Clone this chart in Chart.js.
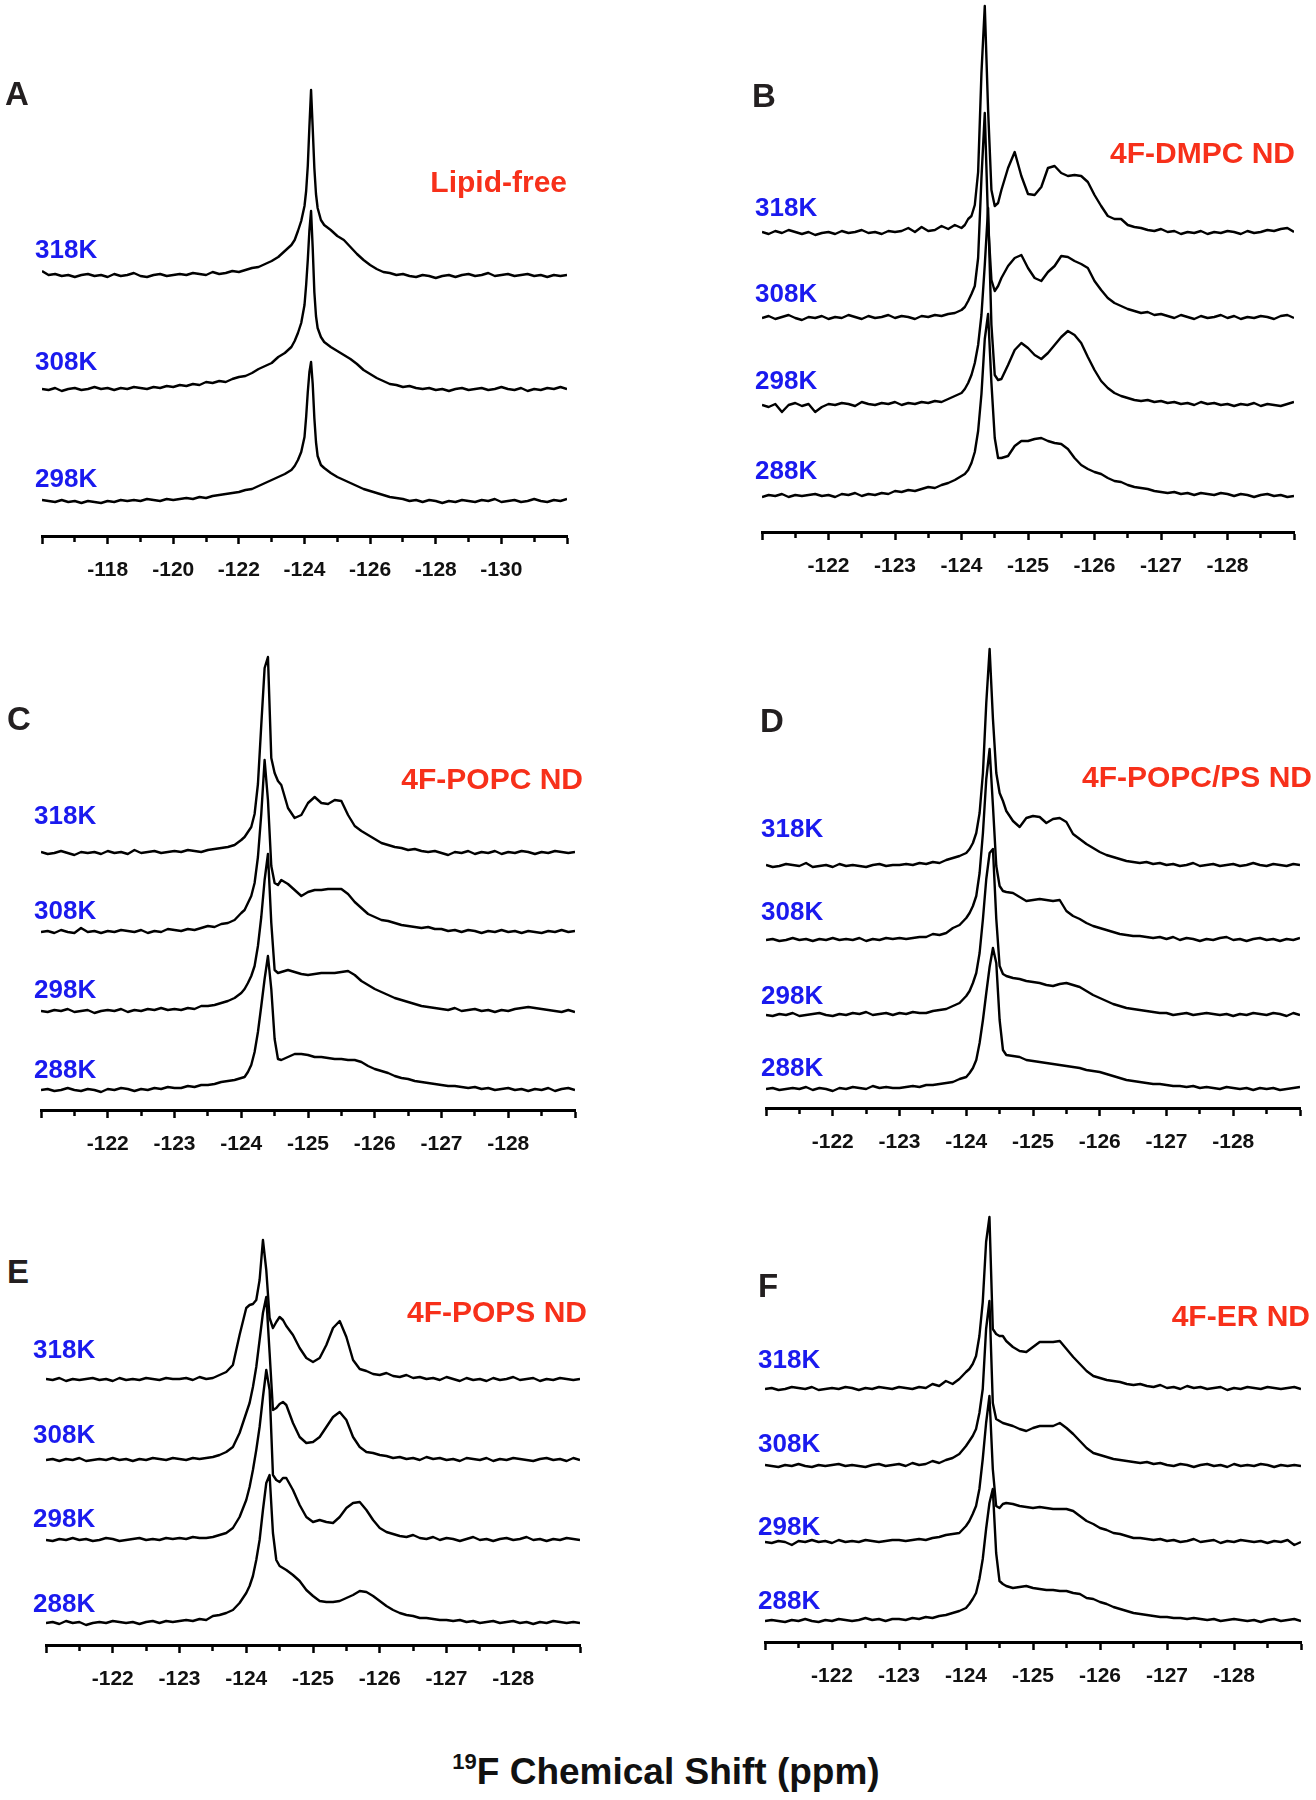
<!DOCTYPE html>
<html>
<head>
<meta charset="utf-8">
<script src="https://cdn.jsdelivr.net/npm/chart.js@4.4.1/dist/chart.umd.min.js"></script>
<style>
  body { margin: 0; width: 1316px; height: 1800px; position: relative; background: #fff; overflow: hidden;
         font-family: 'Liberation Sans', Arial, Helvetica, sans-serif; }
  canvas { position: absolute; }
  .lbl { position: absolute; font-weight: bold; line-height: 1; transform: translateY(-50%); white-space: nowrap; }
  .temp { color: #1a1aee; font-size: 26px; }
  .name { color: #f7301a; font-size: 30px; }
  .letter { color: #231f20; font-size: 33px; }
  .title { position: absolute; left: 666px; top: 1770px; transform: translate(-50%, -50%); font-size: 37px;
           font-weight: bold; color: #111; white-space: nowrap; line-height: 1; }
  .title sup { font-size: 22px; vertical-align: 15px; }
</style>
</head>
<body>
<div class="title"><sup>19</sup>F Chemical Shift (ppm)</div>
<script>
// chemical shift grid (ppm) for panel A, lipid-free
const shiftA = [
  -116, -116.2, -116.4, -116.6, -116.8, -117, -117.2, -117.4, -117.6, -117.8,
  -118, -118.2, -118.4, -118.6, -118.8, -119, -119.2, -119.4, -119.6, -119.8,
  -120, -120.2, -120.4, -120.6, -120.8, -121, -121.2, -121.4, -121.6, -121.8,
  -122, -122.2, -122.4, -122.6, -122.8, -123, -123.2, -123.4, -123.6,
  -123.7, -123.8, -123.9, -124, -124.05, -124.1, -124.15, -124.2, -124.25, -124.3, -124.35, -124.4, -124.5, -124.6,
  -124.8, -125, -125.2, -125.4, -125.6, -125.8, -126, -126.2, -126.4, -126.6,
  -126.8, -127, -127.2, -127.4, -127.6, -127.8, -128, -128.2, -128.4, -128.6,
  -128.8, -129, -129.2, -129.4, -129.6, -129.8, -130, -130.2, -130.4, -130.6,
  -130.8, -131, -131.2, -131.4, -131.6, -131.8, -132
];
// chemical shift grid (ppm) for the nanodisc panels B-F
const shiftND = [
  -121, -121.1, -121.2, -121.3, -121.4, -121.5, -121.6, -121.7, -121.8, -121.9,
  -122, -122.1, -122.2, -122.3, -122.4, -122.5, -122.6, -122.7, -122.8, -122.9,
  -123, -123.1, -123.2, -123.3, -123.4, -123.5, -123.6, -123.7, -123.8, -123.9,
  -124,
  -124.05, -124.1, -124.15, -124.2, -124.25, -124.3, -124.35, -124.4, -124.45, -124.5, -124.55, -124.6,
  -124.7, -124.8, -124.9,
  -125, -125.1, -125.2, -125.3, -125.4, -125.5, -125.6, -125.7, -125.8, -125.9,
  -126, -126.1, -126.2, -126.3, -126.4, -126.5, -126.6, -126.7, -126.8, -126.9,
  -127, -127.1, -127.2, -127.3, -127.4, -127.5, -127.6, -127.7, -127.8, -127.9,
  -128, -128.1, -128.2, -128.3, -128.4, -128.5, -128.6, -128.7, -128.8, -128.9,
  -129
];

const tempsA = ['318K', '308K', '298K'];
const tempsND = ['318K', '308K', '298K', '288K'];

// A: lipid-free (intensity above each trace's own baseline)
const lipid318 = [5,1,2,0,1,-1,1,2,0,1, -1,2,0,1,3,0,-1,1,2,0, 1,2,1,3,2,1,4,2,3,5, 4,6,8,9,12,15,19,25,31,
  36,45,55,70,85,110,150,186,148,108,82,68,56,51,
  46,40,36,29,22,16,11,7,4,3, 1,2,0,-1,1,0,-2,0,1,-1, 1,2,0,1,3,0,1,2,0,1, 2,0,1,-1,1,0,1];
const lipid308 = [1,0,2,-1,1,2,0,1,3,1, 2,0,2,1,3,2,1,3,2,4, 3,5,4,6,5,8,7,9,8,11, 13,14,17,21,24,27,33,37,43,
  49,57,67,85,105,130,160,179,142,98,74,62,53,48,
  43,39,35,31,26,20,16,12,9,6, 5,3,4,2,1,2,0,1,-1,1, 2,0,1,2,0,1,3,1,0,2, -1,1,0,2,1,3,1];
const lipid298 = [2,1,0,2,0,1,-1,1,0,-1, 1,0,2,1,2,1,3,2,1,3, 2,3,4,3,5,4,6,7,8,9, 10,12,13,16,19,22,25,28,32,
  36,42,50,65,85,110,130,140,118,84,60,46,37,34,
  29,25,22,19,16,13,11,9,7,5, 4,3,1,2,0,2,1,-1,1,0, 2,1,0,2,1,3,0,1,2,0, 1,3,1,0,2,1,3];
const offsetsA = [260, 146, 34];

// B: 4F-DMPC ND
const dmpc318 = [1,-1,2,0,3,1,-1,1,-2,0, 1,-1,2,0,1,3,0,1,-1,2, 1,2,5,1,6,2,3,7,4,8, 5,
  8,14,17,28,61,160,227,123,43,27,30,43,
  65,81,57, 39,38,46,65,67,60,57,58,57,51, 38,27,17,14,14,8,6,5,3,2, 4,1,2,-1,1,0,2,-1,1,0, 2,1,-1,2,0,1,3,2,4,5, 1];
const dmpc308 = [0,2,-1,1,3,0,-2,1,0,2, -1,1,0,3,1,-1,2,0,1,3, 0,2,1,-1,2,1,3,2,4,5, 8,
  11,17,24,32,60,140,205,95,38,27,32,40,
  52,60,63, 50,40,37,46,52,62,61,57,54,50, 37,28,20,15,12,9,7,5,6,3, 4,2,0,3,1,-1,2,0,1,3, 0,2,-1,1,0,2,1,-1,2,3, 0];
const dmpc298 = [0,-2,1,-7,0,2,-1,1,-7,-2, 1,0,2,1,-1,3,1,0,2,1, 3,0,2,1,3,2,4,3,6,9, 12,
  16,22,30,42,60,90,140,197,80,30,25,26,
  40,55,62, 57,50,46,52,60,68,74,70,62,48, 35,24,17,12,9,7,5,4,5,3, 4,2,3,1,2,0,3,1,2,0, 1,-1,1,0,2,-1,1,0,-1,1, 3];
const dmpc288 = [-1,1,0,2,-1,1,0,1,2,0, 1,-1,2,1,3,0,2,1,3,2, 5,4,6,5,7,9,8,11,13,16, 20,
  22,26,33,44,65,102,157,182,113,58,38,38,
  40,50,55, 55,57,58,55,53,52,47,38,31,27, 24,22,18,15,14,11,9,8,7,5, 4,3,4,2,3,1,3,2,1,3, 2,0,2,1,-1,1,2,0,1,-1, 0];
const offsetsB = [299, 214, 127, 36];

// C: 4F-POPC ND
const popc318 = [1,-1,0,2,0,-2,1,0,1,-1, 2,0,1,-1,3,0,1,2,0,1, 2,1,3,2,1,3,4,5,6,8, 13,
  16,21,26,39,69,128,185,196,95,80,72,68,
  45,35,38, 50,56,50,49,53,52,38,27,22,18, 14,10,8,6,5,3,4,2,1,2, 0,-2,1,0,2,-1,1,0,2,-1, 1,0,2,1,-1,1,0,2,1,0, 1];
const popc308 = [0,1,-1,2,0,-1,4,0,1,-1, 1,0,2,1,0,2,-1,1,0,3, 2,1,3,2,4,6,5,8,9,12, 19,
  22,29,36,49,75,118,172,132,66,49,47,52,
  48,42,36, 40,42,42,43,43,43,38,30,24,18, 15,12,11,9,7,6,5,4,5,3, 3,1,2,0,2,1,-1,1,0,2, 0,1,-1,1,0,-1,1,0,2,0, 1];
const popc298 = [0,-1,1,0,2,-1,0,1,-2,0, 1,0,2,-1,1,0,2,1,3,1, 2,1,3,2,5,5,6,8,10,13, 18,
  22,28,35,45,65,94,131,157,88,41,38,39,
  41,39,37, 36,37,38,38,38,39,40,36,30,26, 22,19,16,13,11,9,7,5,4,3, 2,1,3,0,1,2,0,1,-1,1, 0,2,3,4,3,2,1,0,-1,1, -1];
const popc288 = [0,1,-1,0,2,0,-1,1,0,-2, 1,0,2,1,-1,1,0,2,1,3, 2,2,4,3,5,5,6,8,9,10, 12,
  13,18,25,38,58,84,111,134,101,51,31,30,
  33,36,36, 35,33,33,32,31,31,30,30,28,24, 21,19,17,14,12,11,9,8,7,6, 5,4,4,3,2,3,1,2,0,1, 2,0,1,-1,1,0,2,-1,1,2, 0];
const offsetsC = [257, 178, 99, 20];

// D: 4F-POPC/PS ND
const popcps318 = [1,-1,0,2,1,0,3,-1,0,1, -1,2,0,1,0,-1,1,2,0,1, 1,2,1,3,2,4,3,6,8,10, 13,
  17,23,33,53,93,163,217,147,93,73,65,55,
  45,39,48, 50,49,43,47,48,44,32,27,22,18, 14,11,9,7,5,4,3,4,2,3, 1,2,0,1,3,0,1,2,0,1, 2,0,1,3,1,0,2,1,0,2, 1];
const popcps308 = [0,1,-1,0,2,0,1,-1,1,0, 2,0,1,0,2,-1,1,0,2,1, 2,1,2,3,3,6,5,7,12,15, 22,
  27,34,44,67,107,161,191,134,74,54,49,48,
  47,43,39, 40,41,40,39,40,29,24,21,17,14, 12,10,8,6,5,4,4,3,2,3, 1,3,0,2,1,-1,1,0,2,3, 0,1,-1,1,2,0,1,-1,1,0, 2];
const popcps298 = [0,-1,1,0,2,-1,0,1,2,0, -1,1,0,2,1,3,0,1,2,0, 2,1,3,2,2,4,5,6,9,12, 19,
  24,32,42,62,96,136,162,166,96,49,41,39,
  37,36,34, 33,32,30,29,31,32,30,28,24,20, 17,14,11,9,7,6,5,4,3,2, 2,0,1,2,0,1,2,1,0,1, -1,1,0,2,1,0,2,1,-1,2, 0];
const popcps288 = [0,1,-1,0,1,0,2,-1,1,0, -2,1,0,2,1,0,3,1,2,1, 1,2,3,2,4,4,5,6,7,10, 12,
  16,21,29,46,69,96,122,141,126,69,39,34,
  33,32,29, 28,27,26,25,24,23,22,21,19,18, 17,15,13,11,9,8,7,6,5,5, 4,3,3,2,3,1,2,1,0,2, 1,0,1,-1,1,0,1,-1,0,1, 2];
const offsetsD = [242, 168, 93, 19];

// E: 4F-POPS ND
const pops318 = [1,0,2,-1,1,0,1,2,0,1, -1,2,0,1,0,2,1,0,2,1, 1,2,0,3,1,2,5,8,15,45, 72,
  75,76,80,100,140,110,62,52,58,63,60,54,
  45,32,22, 18,22,35,52,59,43,20,11,9,6, 5,7,4,3,5,2,3,1,2,0, 3,1,-1,2,0,1,-1,2,0,1, 3,0,1,2,-1,1,0,2,1,0, 1];
const pops308 = [0,1,-1,1,0,2,-1,0,1,0, 2,0,1,-1,1,0,2,1,0,2, 1,0,2,1,2,3,5,8,13,27, 47,
  57,73,93,120,147,163,107,50,52,56,58,55,
  37,23,17, 18,23,33,43,48,40,23,13,8,7, 5,4,2,3,1,2,0,3,1,2, 0,1,-1,2,1,0,2,-1,1,0, 2,1,0,-1,1,2,0,1,-1,2, 0];
const pops298 = [0,-1,1,0,2,0,1,-1,0,2, 1,-1,0,1,2,0,1,0,2,1, 2,1,3,2,2,3,5,7,12,23, 40,
  53,70,90,113,143,170,150,65,60,58,62,62,
  50,35,23, 18,20,18,17,23,32,37,38,30,20, 12,8,6,4,3,5,2,1,3,0, 2,1,-1,1,3,0,1,-1,1,2, 0,1,3,0,1,-1,1,0,2,1, 0];
const pops288 = [0,1,-1,2,0,1,-2,0,1,0, 2,1,0,1,-1,1,2,0,2,1, 2,3,2,4,3,7,8,10,13,20, 30,
  37,47,63,83,113,140,148,90,63,57,55,53,
  48,42,33, 27,22,21,21,22,25,28,32,31,27, 22,17,13,10,8,7,5,5,4,3, 3,2,3,1,2,0,1,2,0,1, 2,0,1,-1,1,0,2,1,0,1, 0];
const offsetsE = [265, 185, 105, 22];

// F: 4F-ER ND
const er318 = [0,1,-1,0,2,1,0,2,-1,0, 1,0,2,1,-1,1,0,2,1,0, 2,1,0,2,1,5,3,8,5,10, 17,
  20,25,33,53,87,147,172,60,55,53,53,48,
  42,38,37, 42,47,47,47,48,40,32,25,18,13, 11,9,8,7,5,4,5,3,2,4, 1,2,0,3,1,2,0,1,2,-1, 1,0,2,1,0,2,1,0,1,2, 0];
const er308 = [1,0,-1,1,0,2,0,-1,1,0, 1,2,0,1,0,-1,1,2,0,1, 2,0,3,1,2,5,3,6,8,12, 20,
  25,30,37,53,77,137,165,63,47,45,43,42,
  40,37,35, 38,40,40,40,43,38,32,25,18,13, 11,9,7,6,5,4,3,4,2,3, 1,0,2,1,-1,1,2,0,1,-1, 2,0,1,0,2,1,-1,1,0,1, 0];
const er298 = [0,-1,1,0,-3,1,0,2,0,1, -1,2,0,1,0,2,1,0,1,2, 2,1,2,3,2,4,5,7,8,9, 16,
  21,28,36,53,83,119,146,73,36,34,38,39,
  38,36,35, 34,35,34,33,33,33,31,26,21,18, 14,12,9,8,6,4,4,3,2,3, 1,2,0,1,3,0,1,2,-1,1, 0,2,1,0,1,-1,1,0,2,-3, 0];
const er288 = [0,1,0,-1,1,0,2,0,-1,1, 0,2,1,0,1,3,1,2,0,2, 2,1,3,2,4,3,5,6,8,10, 13,
  17,22,28,42,62,92,118,132,68,40,37,35,
  33,34,35, 33,32,31,31,30,30,28,27,23,22, 19,17,14,12,10,8,7,6,5,4, 4,3,3,2,3,2,1,2,0,1, 2,1,0,1,-1,1,2,0,1,2, 0];
const offsetsF = [253, 176, 100, 21];

const FONT = "'Liberation Sans', Arial, Helvetica, sans-serif";
const PAD = 8;      // canvas margin left/right of the axis
const AXIS_H = 54;  // height reserved for ticks + tick labels

const panels = [
  { letter: 'A', name: 'Lipid-free', shifts: shiftA, temps: tempsA, spectra: [lipid318, lipid308, lipid298], offsets: offsetsA,
    min: -132, max: -116, step: 1, major: 2, left: 36, right: 573, axisY: 536, top: 60,
    letterPos: [5, 93], namePos: [567, 182], tempX: 35, tempY: [249, 361, 478] },
  { letter: 'B', name: '4F-DMPC ND', shifts: shiftND, temps: tempsND, spectra: [dmpc318, dmpc308, dmpc298, dmpc288], offsets: offsetsB,
    min: -129, max: -121, step: 0.5, major: 1, left: 756, right: 1300, axisY: 532, top: 0,
    letterPos: [752, 95], namePos: [1295, 153], tempX: 755, tempY: [207, 293, 380, 470] },
  { letter: 'C', name: '4F-POPC ND', shifts: shiftND, temps: tempsND, spectra: [popc318, popc308, popc298, popc288], offsets: offsetsC,
    min: -129, max: -121, step: 0.5, major: 1, left: 35, right: 581, axisY: 1110, top: 640,
    letterPos: [7, 718], namePos: [583, 779], tempX: 34, tempY: [815, 910, 989, 1069] },
  { letter: 'D', name: '4F-POPC/PS ND', shifts: shiftND, temps: tempsND, spectra: [popcps318, popcps308, popcps298, popcps288], offsets: offsetsD,
    min: -129, max: -121, step: 0.5, major: 1, left: 760, right: 1306, axisY: 1108, top: 630,
    letterPos: [760, 720], namePos: [1312, 777], tempX: 761, tempY: [828, 911, 995, 1067] },
  { letter: 'E', name: '4F-POPS ND', shifts: shiftND, temps: tempsND, spectra: [pops318, pops308, pops298, pops288], offsets: offsetsE,
    min: -129, max: -121, step: 0.5, major: 1, left: 40, right: 586, axisY: 1645, top: 1220,
    letterPos: [7, 1271], namePos: [587, 1312], tempX: 33, tempY: [1349, 1434, 1518, 1603] },
  { letter: 'F', name: '4F-ER ND', shifts: shiftND, temps: tempsND, spectra: [er318, er308, er298, er288], offsets: offsetsF,
    min: -129, max: -121, step: 0.5, major: 1, left: 759, right: 1307, axisY: 1642, top: 1200,
    letterPos: [758, 1285], namePos: [1310, 1316], tempX: 758, tempY: [1359, 1443, 1526, 1600] }
];

function addLabel(text, cls, x, y, alignRight) {
  const d = document.createElement('div');
  d.className = 'lbl ' + cls;
  d.textContent = text;
  if (alignRight) d.style.right = (1316 - x) + 'px';
  else d.style.left = x + 'px';
  d.style.top = y + 'px';
  document.body.appendChild(d);
}

panels.forEach(p => {
  const cv = document.createElement('canvas');
  const w = p.right - p.left + 2 * PAD;
  const h = p.axisY - p.top + AXIS_H;
  cv.width = w; cv.height = h;
  cv.style.left = (p.left - PAD) + 'px';
  cv.style.top = p.top + 'px';
  cv.style.width = w + 'px';
  cv.style.height = h + 'px';
  document.body.appendChild(cv);

  const isMajor = v => Math.abs(v / p.major - Math.round(v / p.major)) < 1e-6;

  new Chart(cv.getContext('2d'), {
    type: 'line',
    data: {
      datasets: p.spectra.map((s, k) => ({
        label: p.temps[k],
        data: p.shifts.map((x, i) => ({ x: x, y: p.offsets[k] + s[i] })),
        borderColor: '#000',
        borderWidth: 2.4,
        borderJoinStyle: 'round',
        pointRadius: 0,
        tension: 0,
        fill: false
      }))
    },
    options: {
      responsive: false,
      animation: false,
      events: [],
      devicePixelRatio: 1,
      layout: { padding: { left: PAD, right: PAD, top: 0, bottom: 0 } },
      plugins: { legend: { display: false }, tooltip: { enabled: false } },
      scales: {
        x: {
          type: 'linear',
          reverse: true,
          min: p.min,
          max: p.max,
          afterFit: scale => { scale.height = AXIS_H; },
          border: { display: true, color: '#000', width: 3 },
          grid: {
            drawOnChartArea: false,
            drawTicks: true,
            tickLength: 8,
            tickWidth: 2.5,
            tickColor: '#000',
            tickBorderDash: ctx => (ctx.tick && !isMajor(ctx.tick.value)) ? [4, 30] : []
          },
          ticks: {
            stepSize: p.step,
            maxTicksLimit: 100,
            autoSkip: false,
            maxRotation: 0,
            padding: 14,
            color: '#111',
            font: { family: FONT, size: 21, weight: 'bold' },
            callback: v => (v === p.min || v === p.max || !isMajor(v)) ? '' : String(v)
          }
        },
        y: { display: false, min: 0, max: p.axisY - p.top }
      }
    }
  });

  addLabel(p.letter, 'letter', p.letterPos[0], p.letterPos[1], false);
  addLabel(p.name, 'name', p.namePos[0], p.namePos[1], true);
  p.temps.forEach((t, k) => addLabel(t, 'temp', p.tempX, p.tempY[k], false));
});
</script>
</body>
</html>
